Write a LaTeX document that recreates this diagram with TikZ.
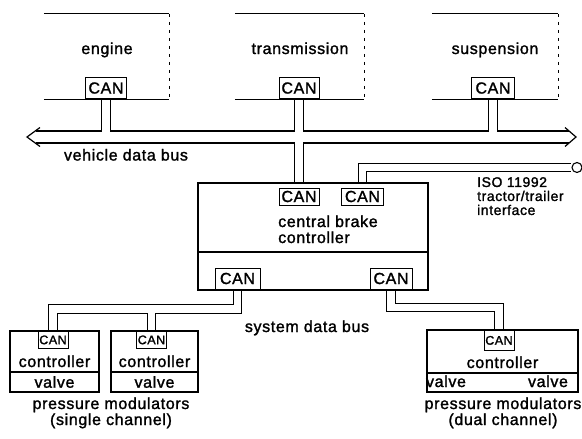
\documentclass[tikz,border=0pt]{standalone}
\usepackage{fontspec}
\setmainfont{Liberation Sans}[LetterSpace=4, FakeBold=1.5]
\pgfdeclarelayer{back}
\pgfdeclarelayer{bg}
\pgfsetlayers{back,bg,main}
\begin{document}
\begin{tikzpicture}[x=1pt,y=-1pt,
  lbl/.style={inner sep=0pt, font=\fontsize{16}{16}\selectfont},
  isolbl/.style={inner sep=0pt, align=left, font=\fontsize{14}{14}\selectfont},
  canbox/.style={draw, line width=0.9pt, inner sep=0pt, minimum width=40pt, minimum height=17pt, font=\fontsize{16}{16}\selectfont},
  cansmall/.style={draw, line width=0.8pt, inner sep=0pt, minimum width=30pt, minimum height=17pt, font=\fontsize{12.5}{13}\selectfont},
  box/.style={draw, line width=1.1pt, inner sep=0pt},
  frame/.style={inner sep=0pt, minimum height=85pt},
  edge/.style={line width=1.2pt},
  faint/.style={line width=0.6pt, dash pattern=on 3pt off 5pt},
  chan/.style={draw=black, line width=1.1pt, double=white, double distance=7.4pt},
  chanfill/.style={draw=white, line width=7.4pt},
  bus/.style={draw=black, line width=1.2pt, double=white, double distance=10.8pt},
  busfill/.style={draw=white, line width=10.8pt},
]
\begin{pgfonlayer}{back}
  \fill[white] (0,0) rectangle (582,439);
\end{pgfonlayer}
\useasboundingbox (0,0) rectangle (582,439);

% ---- top units
\node[frame, minimum width=125pt] (eng) at (106.5,56.5) {};
\node[frame, minimum width=129pt] (trn) at (299.5,56.5) {};
\node[frame, minimum width=126pt] (sus) at (495,56.5) {};
\foreach \bx in {eng,trn,sus}{
  \draw[edge] (\bx.north west) -- (\bx.north east);
  \draw[edge] (\bx.south west) -- (\bx.south east);
  \draw[faint] (\bx.north east) -- (\bx.south east);
}
\node[lbl, anchor=base] (engt) at (107,54) {engine};
\node[lbl, anchor=base] (trnt) at (300,54) {transmission};
\node[lbl, anchor=base] (sust) at (495,54) {suspension};
\node[canbox, anchor=south, minimum height=21pt, minimum width=41pt] (ecan) at (106,99) {CAN};
\node[canbox, anchor=south, minimum height=21pt] (tcan) at (299,99) {CAN};
\node[canbox, anchor=south, minimum height=21pt, minimum width=43pt] (scan) at (493,99) {CAN};

% ---- vehicle data bus
\coordinate (busL) at (35.5,137);
\coordinate (busR) at (569,137);
\draw[edge, line join=miter] (40,127.5) -- (27,137) -- (40,146.5);
\draw[edge, line join=miter] (565,127.5) -- (576,137) -- (565,146.5);
\node[lbl, anchor=base] (bust) at (126,160.5) {vehicle data bus};

% ---- central brake controller
\node[box, minimum width=230pt, minimum height=107pt] (cbc) at (313,236.5) {};
\coordinate (dv) at (0,252);
\draw[box] (cbc.west |- dv) -- (cbc.east |- dv);
\node[canbox] (c1) at (299,196.5) {CAN};
\node[canbox, minimum width=42pt] (c2) at (362.5,196.5) {CAN};
\node[lbl, anchor=base west] (cbt1) at (278,227) {central brake};
\node[lbl, anchor=base west] (cbt2) at (278,243) {controller};
\node[canbox, minimum width=45pt, minimum height=21pt] (lc1) at (237.5,278.5) {CAN};
\node[canbox, minimum width=42pt, minimum height=21pt] (lc2) at (391,278.5) {CAN};

% ---- trailer interface
\node[circle, draw, line width=1.1pt, minimum size=10pt, inner sep=0pt] (iso) at (577,167.5) {};
\node[isolbl, anchor=north west] (isot) at (477,177) {ISO 11992\\tractor/trailer\\interface};

\node[lbl, anchor=base] (sdb) at (307,332) {system data bus};

% ---- single channel modulators
\node[box, minimum width=89pt, minimum height=61pt] (m1) at (54.5,361.5) {};
\node[box, minimum width=87pt, minimum height=61pt] (m2) at (154.5,361.5) {};
\node[cansmall, anchor=north] (m1can) at (53,331) {CAN};
\node[cansmall, anchor=north] (m2can) at (151.5,331) {CAN};
\node[lbl, anchor=base] (m1c) at (54.5,367) {controller};
\node[lbl, anchor=base] (m2c) at (154.5,367) {controller};
\node[box, lbl, minimum width=89pt, minimum height=20pt] (v1) at (54.5,382) {valve};
\node[box, lbl, minimum width=87pt, minimum height=20pt] (v2) at (154.5,382) {valve};
\node[lbl, anchor=base] (pm1) at (111,409) {pressure modulators};
\node[lbl, anchor=base] (sc1) at (111,425) {(single channel)};

% ---- dual channel modulator
\node[box, minimum width=151pt, minimum height=62pt] (dm) at (502.5,361) {};
\coordinate (dv2) at (0,373);
\draw[box] (dm.west |- dv2) -- (dm.east |- dv2);
\node[cansmall, anchor=north, minimum height=20pt] (dcan) at (499,330) {CAN};
\node[lbl, anchor=base] (dmc) at (502.5,368) {controller};
\node[lbl, anchor=base] (dva) at (446,387) {valve};
\node[lbl, anchor=base] (dvb) at (548,387) {valve};
\node[lbl, anchor=base] (pm2) at (503,409) {pressure modulators};
\node[lbl, anchor=base] (dc2) at (503,425) {(dual channel)};

% ---- connectors
\begin{pgfonlayer}{bg}
  \draw[bus] (busL) -- (busR);
  \draw[chan] (ecan.south) -- (ecan.south |- busL);
  \draw[chan] (tcan.south) -- (tcan.south |- cbc.north);
  \draw[chan] (scan.south) -- (scan.south |- busL);
  \draw[busfill] (busL) -- (busR);
  \draw[chan] (c2.north |- cbc.north) -- (c2.north |- iso) -- (iso.west);
  \coordinate (sbL) at (0,309);
  \coordinate (sbR) at (0,307.5);
  \draw[chan] (lc1.south |- cbc.south) -- (lc1.south |- sbL) -| (m1can.north);
  \draw[chan] (m2can.north |- sbL) -- (m2can.north);
  \draw[chanfill] (lc1.south |- sbL) -| (m1can.north);
  \draw[chan] (lc2.south |- cbc.south) -- (lc2.south |- sbR) -| (dcan.north);
\end{pgfonlayer}
\end{tikzpicture}
\end{document}
